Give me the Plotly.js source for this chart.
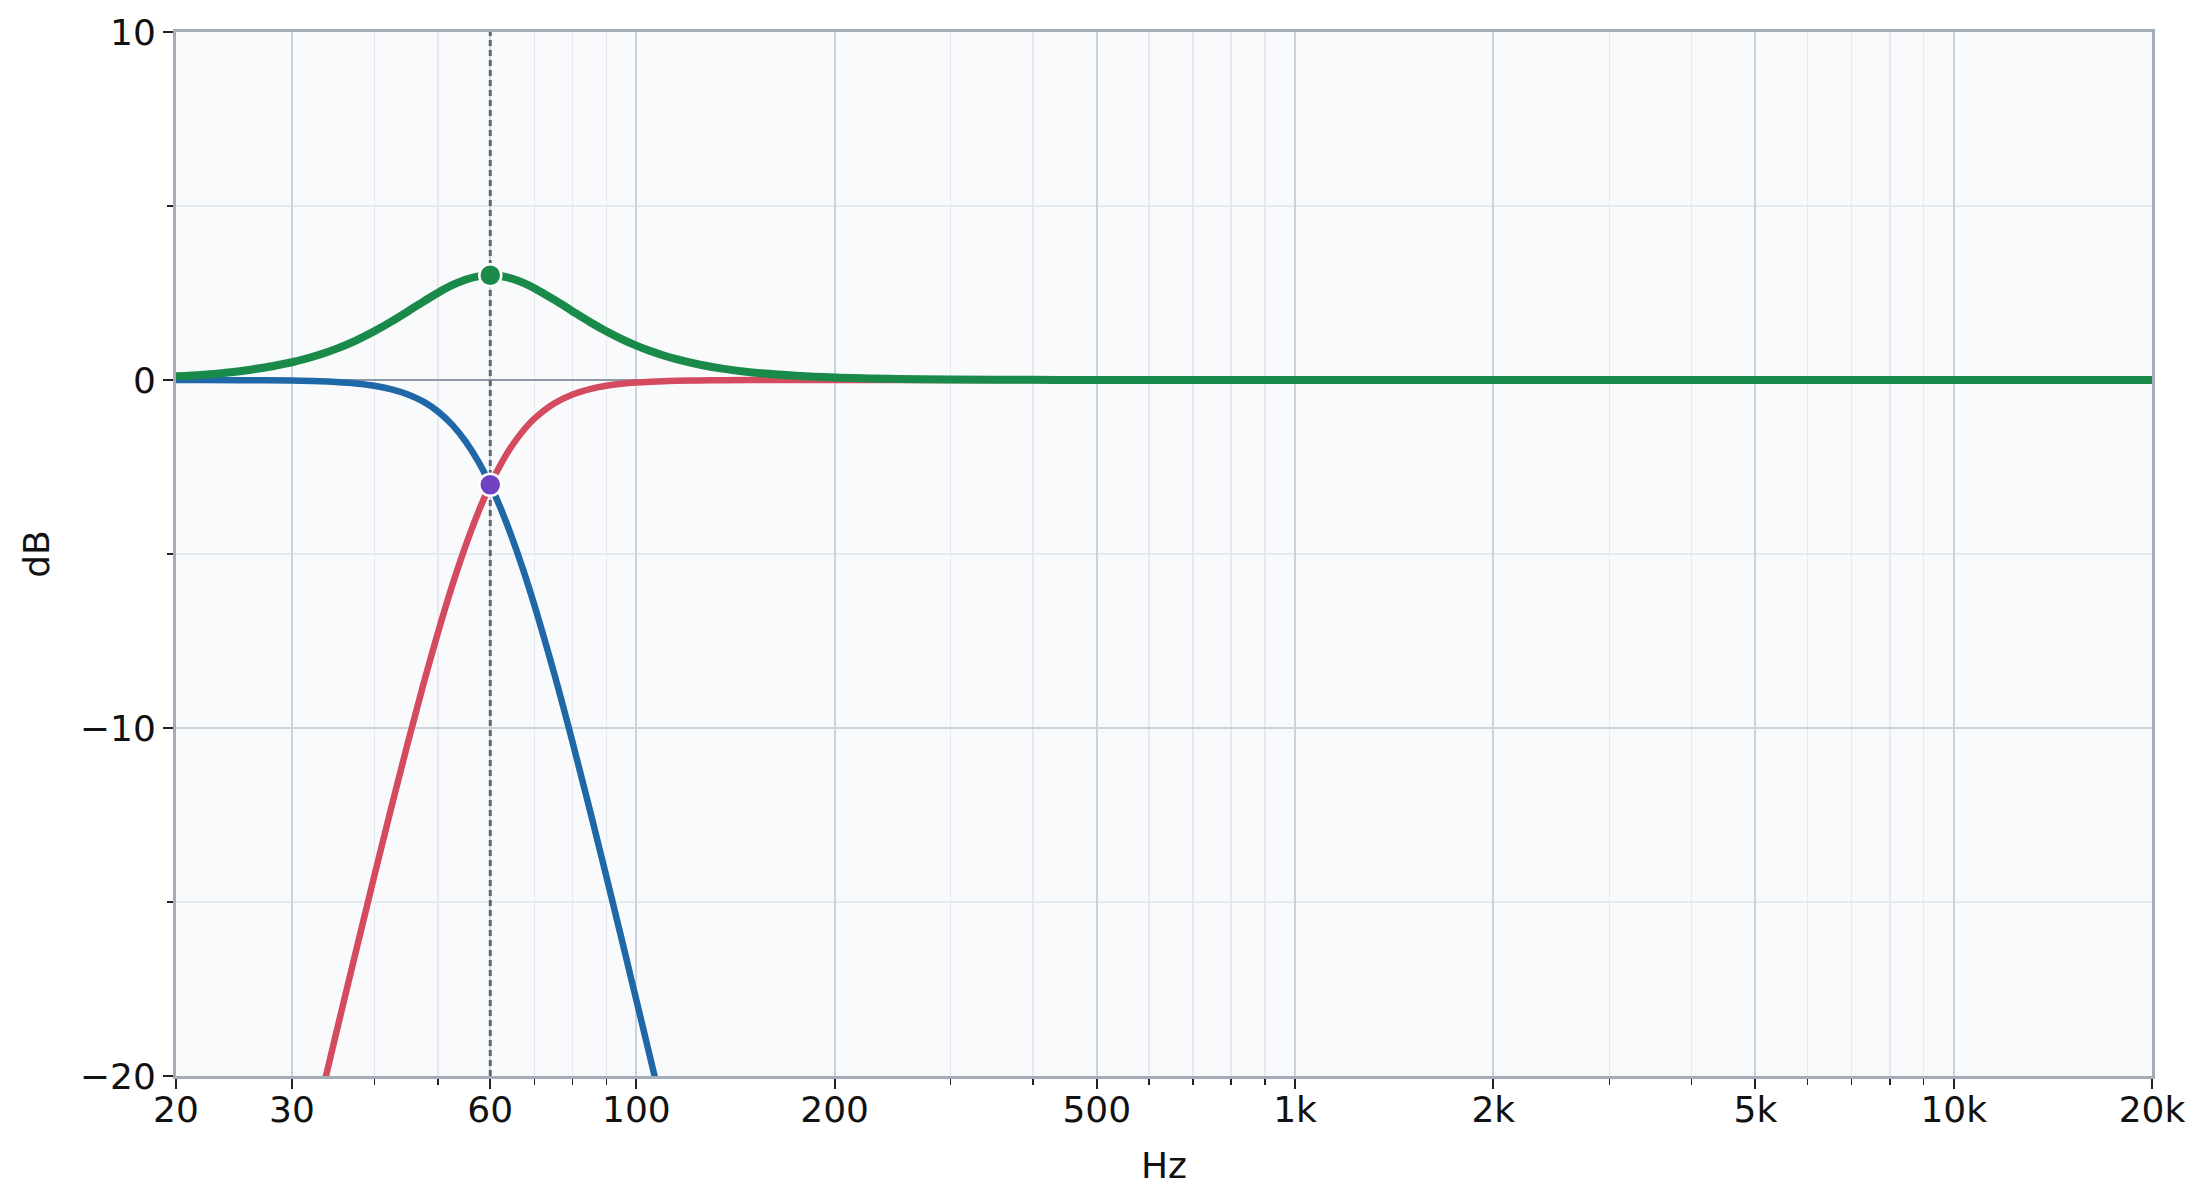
<!DOCTYPE html>
<html>
<head>
<meta charset="utf-8">
<script src="https://cdn.plot.ly/plotly-3.0.1.min.js"></script>
<style>
  html, body { margin: 0; padding: 0; background: #ffffff; }
  #chart { width: 2204px; height: 1204px; }
</style>
</head>
<body>
<div id="chart"></div>
<script>
// Summed response (green): frequencies (Hz) and dB
const sumFreq = [20, 22, 25, 30, 33, 35, 37.5, 40, 42.5, 45, 47.5, 50, 52.5, 55, 57.5, 60, 62.5, 65, 67.5, 70, 75, 80, 85, 90, 95, 100, 105, 110, 115, 125, 135, 150, 175, 200, 250, 300, 400, 500, 1000, 2000, 5000, 10000, 20000];
const sumDb   = [0.106, 0.154, 0.254, 0.510, 0.724, 0.894, 1.134, 1.399, 1.683, 1.974, 2.255, 2.510, 2.724, 2.883, 2.979, 3.010, 2.982, 2.902, 2.784, 2.639, 2.308, 1.974, 1.666, 1.399, 1.174, 0.987, 0.831, 0.703, 0.597, 0.437, 0.326, 0.216, 0.120, 0.070, 0.029, 0.014, 0.004, 0.002, 0, 0, 0, 0, 0];

// Low-pass branch (blue)
const lowFreq = [20, 22, 25, 30, 33, 35, 37.5, 40, 42.5, 45, 47.5, 50, 52.5, 55, 57.5, 60, 62.5, 65, 67.5, 70, 75, 80, 85, 90, 95, 100, 105, 110, 115, 125, 135, 150];
const lowDb   = [-0.001, -0.001, -0.004, -0.017, -0.036, -0.058, -0.100, -0.166, -0.267, -0.414, -0.623, -0.908, -1.283, -1.757, -2.334, -3.010, -3.777, -4.620, -5.521, -6.466, -8.426, -10.409, -12.361, -14.254, -16.074, -17.820, -19.492, -21.09, -22.628, -25.51, -28.181, -31.84];

// High-pass branch (red)
const highFreq = [22, 25, 30, 33, 35, 37.5, 40, 42.5, 45, 47.5, 50, 52.5, 55, 57.5, 60, 62.5, 65, 67.5, 70, 75, 80, 85, 90, 95, 100, 105, 110, 115, 125, 135, 150, 175, 200, 300, 500, 1000, 2000, 5000, 10000, 20000];
const highDb   = [-34.86, -30.42, -24.10, -20.81, -18.78, -16.430, -14.25, -12.248, -10.41, -8.740, -7.243, -5.922, -4.780, -3.812, -3.010, -2.359, -1.839, -1.429, -1.111, -0.674, -0.414, -0.260, -0.166, -0.109, -0.072, -0.049, -0.034, -0.024, -0.012, -0.007, -0.003, -0.001, 0, 0, 0, 0, 0, 0, 0, 0];

// Crossover point
const xoverHz = [60];
const peakDb = [3.010];
const crossDb = [-3.010];

// Axis ticks
const xTickVals = [20, 30, 60, 100, 200, 500, 1000, 2000, 5000, 10000, 20000];
const xTickText = ['20', '30', '60', '100', '200', '500', '1k', '2k', '5k', '10k', '20k'];
const xMinorVals = [40, 50, 70, 80, 90, 300, 400, 600, 700, 800, 900, 3000, 4000, 6000, 7000, 8000, 9000];
const yTickVals = [-20, -10, 0, 10];
const yMinorVals = [-15, -5, 5];
const yRange = [-20, 10];
const xRange = [20, 20000];

const FONT = 'DejaVu Sans, sans-serif';

const traces = [
  {
    x: xoverHz.concat(xoverHz), y: yRange,
    mode: 'lines', line: {color: '#5f6672', width: 3, dash: '6px,4px'},
    hoverinfo: 'skip', showlegend: false
  },
  {
    x: highFreq, y: highDb, mode: 'lines',
    line: {color: '#d44a5e', width: 6.5, shape: 'spline', smoothing: 1},
    showlegend: false
  },
  {
    x: lowFreq, y: lowDb, mode: 'lines',
    line: {color: '#1f67a6', width: 6.5, shape: 'spline', smoothing: 1},
    showlegend: false
  },
  {
    x: sumFreq, y: sumDb, mode: 'lines',
    line: {color: '#1a8a4a', width: 8, shape: 'spline', smoothing: 1},
    showlegend: false
  },
  {
    x: xoverHz, y: peakDb, mode: 'markers',
    marker: {color: '#1a8a4a', size: 22, line: {color: '#ffffff', width: 2.5}},
    showlegend: false
  },
  {
    x: xoverHz, y: crossDb, mode: 'markers',
    marker: {color: '#6f42c1', size: 22, line: {color: '#ffffff', width: 2.5}},
    showlegend: false
  }
];

const layout = {
  width: 2204, height: 1204,
  margin: {l: 176, r: 52, t: 32, b: 128, pad: 0},
  paper_bgcolor: '#ffffff',
  plot_bgcolor: '#f8fafc',
  font: {family: FONT, size: 36, color: '#111111'},
  showlegend: false,
  xaxis: {
    type: 'log',
    range: [Math.log10(xRange[0]), Math.log10(xRange[1])],
    tickmode: 'array', tickvals: xTickVals, ticktext: xTickText,
    ticks: 'outside', ticklen: 10, tickwidth: 2, tickcolor: '#222222',
    ticklabelstandoff: -10,
    tickfont: {family: FONT, size: 36, color: '#111111'},
    showgrid: true, gridcolor: '#ccd3db', gridwidth: 2,
    minor: {tickmode: 'array', tickvals: xMinorVals, ticks: 'outside', ticklen: 6, tickwidth: 1.5, tickcolor: '#222222', showgrid: true, gridcolor: '#e6eaef', gridwidth: 1.5},
    showline: true, linecolor: '#a3adba', linewidth: 3, mirror: true,
    zeroline: false,
    title: {text: 'Hz', font: {family: FONT, size: 36, color: '#111111'}, standoff: 24},
    automargin: false
  },
  yaxis: {
    range: yRange,
    tickmode: 'array', tickvals: yTickVals,
    ticks: 'outside', ticklen: 10, tickwidth: 2, tickcolor: '#222222',
    tickfont: {family: FONT, size: 36, color: '#111111'},
    showgrid: true, gridcolor: '#ccd3db', gridwidth: 2,
    minor: {tickmode: 'array', tickvals: yMinorVals, ticks: 'outside', ticklen: 6, tickwidth: 1.5, tickcolor: '#222222', showgrid: true, gridcolor: '#e6eaef', gridwidth: 1.5},
    showline: true, linecolor: '#a3adba', linewidth: 3, mirror: true,
    zeroline: true, zerolinecolor: '#8f98a5', zerolinewidth: 2.5,
    title: {text: 'dB', font: {family: FONT, size: 36, color: '#111111'}, standoff: 20},
    automargin: false
  }
};

Plotly.newPlot('chart', traces, layout, {displayModeBar: false, staticPlot: true});
</script>
</body>
</html>
